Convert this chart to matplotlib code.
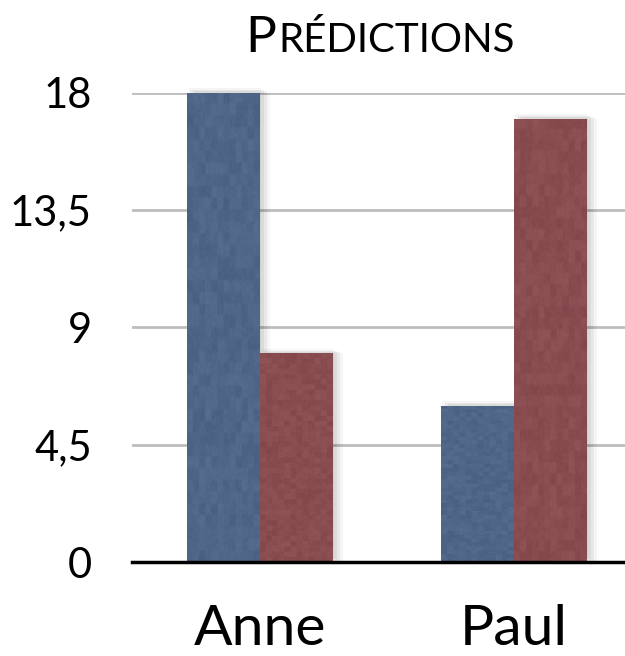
import matplotlib
matplotlib.use("Agg")
import matplotlib.pyplot as plt
import matplotlib.patheffects as pe
from matplotlib.offsetbox import TextArea, HPacker, AnchoredOffsetbox
import numpy as np

plt.rcParams['font.family'] = ['Lato', 'DejaVu Sans']

# Data
people = ["Anne", "Paul"]
series_a = [18, 6]    # blue bars
series_b = [8, 17]    # red bars
y_ticks = [0, 4.5, 9, 13.5, 18]
y_tick_labels = ["0", "4,5", "9", "13,5", "18"]

blue = "#4c6489"
red = "#8a494d"

fig = plt.figure(figsize=(6.25, 6.56), dpi=100)
ax = fig.add_axes([132 / 625, 94 / 656, 493 / 625, 469.5 / 656])

x = np.arange(len(people))
w = 0.287

shadow = [
    pe.SimplePatchShadow(offset=(7, 0), shadow_rgbFace="black", alpha=0.04),
    pe.SimplePatchShadow(offset=(5, 1), shadow_rgbFace="black", alpha=0.05),
    pe.SimplePatchShadow(offset=(3, 2), shadow_rgbFace="black", alpha=0.06),
    pe.SimplePatchShadow(offset=(1, 3), shadow_rgbFace="black", alpha=0.04),
    pe.Normal(),
]

bars_a = ax.bar(x - w / 2, series_a, width=w, color=blue, zorder=3, clip_on=False)
bars_b = ax.bar(x + w / 2, series_b, width=w, color=red, zorder=3, clip_on=False)
for b in list(bars_a) + list(bars_b):
    b.set_path_effects(shadow)

# Mottled fabric-like texture over each bar
rng = np.random.default_rng(7)
for b in list(bars_a) + list(bars_b):
    coarse = rng.random((40, 12))
    fine = rng.random((160, 48))
    tex = np.kron(coarse, np.ones((4, 4))) * 0.6 + fine * 0.4
    x0, y0 = b.get_x(), b.get_y()
    im = ax.imshow(tex, cmap="gray", alpha=0.07, aspect="auto",
                   extent=(x0, x0 + b.get_width(), y0, y0 + b.get_height()),
                   zorder=3.5, interpolation="bilinear")
    im.set_clip_path(b)

ax.set_xlim(-0.504, 1.437)
ax.set_ylim(0, 18)

ax.set_yticks(y_ticks)
ax.set_yticklabels(y_tick_labels)
ax.set_xticks(x)
ax.set_xticklabels(people)

ax.yaxis.grid(True, color="#bdbdbd", linewidth=2, zorder=0)
ax.set_axisbelow(True)
for s in ["top", "right", "left"]:
    ax.spines[s].set_visible(False)
ax.spines["bottom"].set_linewidth(2.5)
ax.spines["bottom"].set_color("black")
ax.spines["bottom"].set_zorder(4)

ax.tick_params(axis="y", length=0, pad=29, labelsize=30)
ax.tick_params(axis="x", length=0, pad=30, labelsize=41)

# Small-caps title
big = TextArea("P", textprops=dict(fontsize=37, color="black"))
small = TextArea("RÉDICTIONS", textprops=dict(fontsize=29, color="black"))
pack = HPacker(children=[big, small], align="baseline", pad=0, sep=1)
title = AnchoredOffsetbox(loc="center", child=pack, frameon=False,
                          bbox_to_anchor=(380 / 625, 1 - 38 / 656),
                          bbox_transform=fig.transFigure, borderpad=0)
fig.add_artist(title)

fig.savefig("out.png", dpi=100)
